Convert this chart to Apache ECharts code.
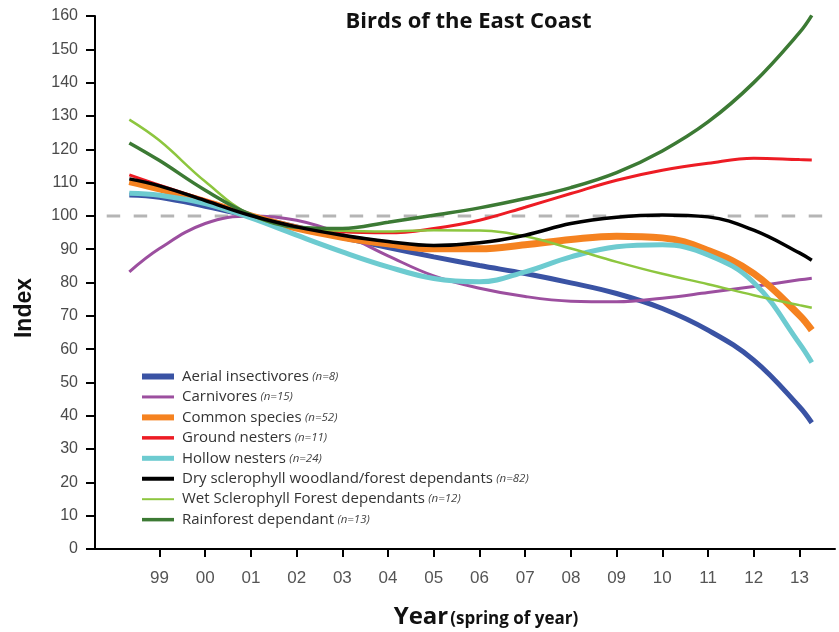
<!DOCTYPE html>
<html>
<head>
<meta charset="utf-8">
<title>Birds of the East Coast</title>
<script src="https://cdn.jsdelivr.net/npm/echarts@6/dist/echarts.min.js"></script>
<style>
  html, body { margin: 0; padding: 0; background: #fff; }
  #chart { width: 839px; height: 632px; }
</style>
</head>
<body>
<div id="chart"></div>
<script>
// x positions are years since 2000 (99 = -1)
const xYears = [-1.66, -1, 0, 1, 2, 3, 4, 5, 6, 7, 8, 9, 10, 11, 12, 13, 13.27];
const tickYears = [-1, 0, 1, 2, 3, 4, 5, 6, 7, 8, 9, 10, 11, 12, 13];
const tickLabels = ['99', '00', '01', '02', '03', '04', '05', '06', '07', '08', '09', '10', '11', '12', '13'];

const seriesNames = [
  'Aerial insectivores',
  'Carnivores',
  'Common species',
  'Ground nesters',
  'Hollow nesters',
  'Dry sclerophyll woodland/forest dependants',
  'Wet Sclerophyll Forest dependants',
  'Rainforest dependant'
];
const sampleSizes = ['n=8', 'n=15', 'n=52', 'n=11', 'n=24', 'n=82', 'n=12', 'n=13'];

const aerial = [106.3, 105.6, 102.9, 99.8, 96.7, 93.5, 90.5, 87.7, 85.1, 82.7, 79.9, 76.7, 72.2, 65.7, 56.7, 42.7, 37.9];
const carnivores = [83.2, 90.2, 97.7, 100, 98.7, 94.5, 88, 82, 78.3, 75.8, 74.4, 74.2, 75.3, 77, 78.8, 80.8, 81.3];
const common = [110.3, 108.1, 104.3, 100, 96.3, 93.6, 91.6, 90.1, 90.1, 91.3, 92.9, 93.9, 93.4, 89.6, 82.7, 70.2, 65.7];
const ground = [112.3, 109.2, 104.7, 100, 96.7, 95.2, 94.9, 96.2, 98.7, 102.6, 106.7, 110.7, 113.7, 115.8, 117.3, 116.9, 116.8];
const hollow = [106.8, 106.2, 103.7, 99.4, 94.2, 89.2, 84.7, 81.2, 80.2, 83.2, 87.7, 90.7, 91.3, 88.3, 80, 61.7, 56];
const dry = [111.1, 109, 104.6, 100.1, 96.7, 94.2, 92.3, 91.1, 91.9, 94.2, 97.7, 99.6, 100.3, 99.7, 95.7, 88.9, 86.7];
const wet = [128.9, 122.6, 110.3, 100.2, 96.6, 95.5, 95.3, 95.7, 95.6, 93.9, 90.2, 86.2, 82.6, 79.5, 76.2, 73.2, 72.4];
const rainforest = [121.9, 116.6, 107.7, 100.4, 96.6, 96.2, 98.1, 100.2, 102.4, 105.2, 108.5, 113, 119.5, 128.2, 140, 155, 160.2];

const baselineValue = 100;
const baselineSpan = [-2.155, 13.57];

const seriesValues = [aerial, carnivores, common, ground, hollow, dry, wet, rainforest];
const colors = ['#3a53a4', '#9c4f9f', '#f58220', '#ed1c24', '#6dcbd0', '#000000', '#8dc63f', '#3c7a34'];
const lineWidths = [5, 3, 7, 3, 5, 3.5, 2.5, 3.5];
const swatchHeights = [6, 3, 6, 3.5, 5, 4, 2, 3.5];

const chart = echarts.init(document.getElementById('chart'));

// one legend per row so each swatch can have its own thickness
const legends = seriesNames.map((name, i) => ({
  data: [name],
  left: 137,
  top: 364 + i * 20.45,
  icon: 'rect',
  itemWidth: 32,
  itemHeight: swatchHeights[i],
  selectedMode: false,
  formatter: (n) => `{a|${n}} {b|(${sampleSizes[i]})}`,
  textStyle: {
    rich: {
      a: { fontFamily: 'Open Sans', fontSize: 15, color: '#333', padding: [0, 0, 0, 3], lineHeight: 18 },
      b: { fontFamily: 'Open Sans', fontStyle: 'italic', fontSize: 11.5, color: '#444', lineHeight: 18 }
    }
  }
}));

const lineSeries = seriesNames.map((name, i) => ({
  name,
  type: 'line',
  smooth: 0.4,
  symbol: 'none',
  data: xYears.map((x, k) => [x, seriesValues[i][k]]),
  itemStyle: { color: colors[i] },
  lineStyle: { color: colors[i], width: lineWidths[i], cap: 'butt' },
  z: i === 5 ? 12 : 3 + i
}));

chart.setOption({
  animation: false,
  grid: { left: 95, right: 4, top: 16, bottom: 83 },
  legend: legends,
  xAxis: {
    type: 'value',
    min: -2.411,
    max: 13.778,
    axisLine: { show: true, lineStyle: { color: '#000', width: 2 } },
    axisTick: {
      show: true,
      length: 8,
      customValues: tickYears,
      lineStyle: { color: '#000', width: 2 }
    },
    axisLabel: {
      customValues: tickYears,
      margin: 21,
      fontFamily: 'Liberation Sans',
      fontSize: 17,
      color: '#555',
      formatter: (v) => tickLabels[tickYears.indexOf(Math.round(v))]
    },
    splitLine: { show: false }
  },
  yAxis: {
    type: 'value',
    min: 0,
    max: 160,
    interval: 10,
    axisLine: { show: true, onZero: false, lineStyle: { color: '#000', width: 2 } },
    axisTick: { show: true, length: 9, lineStyle: { color: '#000', width: 2 } },
    axisLabel: {
      margin: 17,
      fontFamily: 'Liberation Sans',
      fontSize: 16,
      color: '#4a4a4a'
    },
    splitLine: { show: false }
  },
  series: [
    {
      name: 'baseline',
      type: 'line',
      symbol: 'none',
      silent: true,
      data: baselineSpan.map((x) => [x, baselineValue]),
      lineStyle: { color: '#b5b5b5', width: 3, type: [13.5, 13.5] },
      z: 1
    },
    ...lineSeries
  ],
  graphic: [
    {
      type: 'text',
      x: 468.5,
      y: 22,
      style: {
        text: 'Birds of the East Coast',
        align: 'center',
        verticalAlign: 'middle',
        fontFamily: 'Open Sans',
        fontWeight: 'bold',
        fontSize: 22,
        fill: '#111'
      }
    },
    {
      type: 'text',
      x: 25,
      y: 308,
      rotation: Math.PI / 2,
      style: {
        text: 'Index',
        align: 'center',
        verticalAlign: 'middle',
        fontFamily: 'Liberation Sans',
        fontWeight: 'bold',
        fontSize: 23,
        fill: '#111'
      }
    },
    {
      type: 'text',
      x: 486,
      y: 617,
      style: {
        text: '{y|Year}{s|(spring of year)}',
        align: 'center',
        verticalAlign: 'middle',
        rich: {
          y: { fontFamily: 'Open Sans', fontWeight: 'bold', fontSize: 24, fill: '#111' },
          s: { fontFamily: 'Open Sans', fontWeight: 'bold', fontSize: 17, fill: '#111', padding: [4, 0, 0, 2] }
        }
      }
    }
  ]
});
</script>
</body>
</html>
